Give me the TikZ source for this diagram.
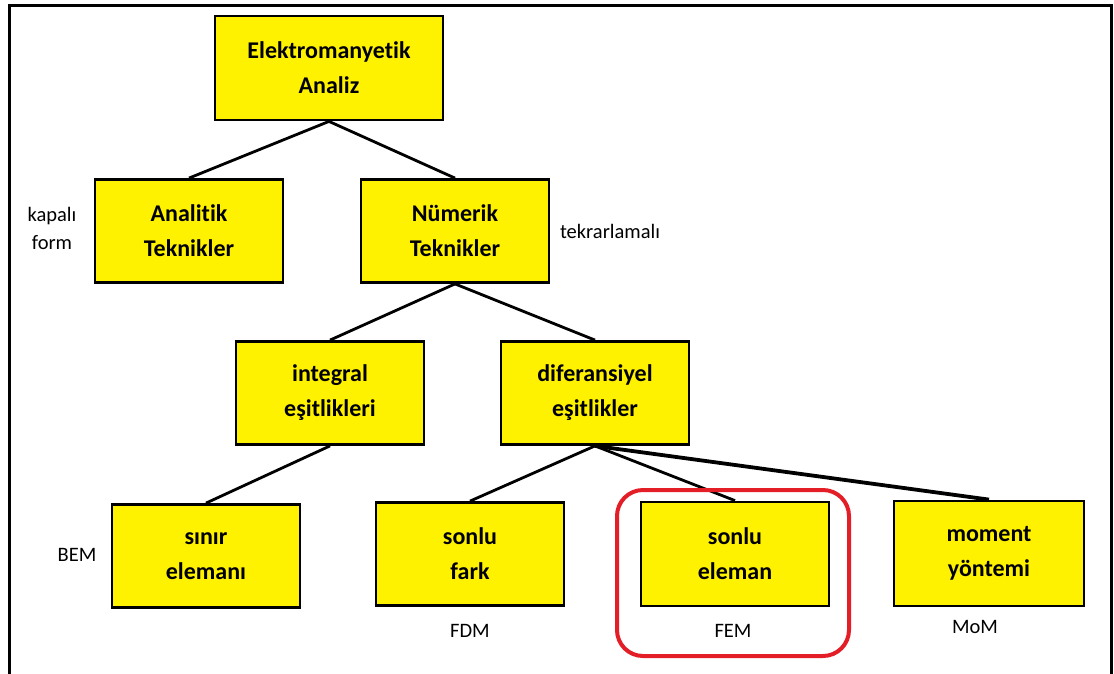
\documentclass[tikz,border=0pt]{standalone}
\usepackage{fontspec}
\setmainfont{Carlito}[Ligatures=NoCommon]
\definecolor{boxyellow}{RGB}{255,242,0}
\definecolor{ringred}{RGB}{228,30,38}
\begin{document}
\begin{tikzpicture}[x=1pt,y=-1pt,
  box/.style={draw=black,line width=2.8pt,fill=boxyellow,inner sep=0pt,
    minimum width=188pt,minimum height=103pt,align=center,
    font=\bfseries\fontsize{24}{35}\selectfont},
  lbl/.style={inner sep=0pt,align=center,font=\fontsize{20.5}{28}\selectfont},
  conn/.style={line width=2.8pt,black},
  thickconn/.style={line width=3.8pt,black}]
\useasboundingbox (0,0) rectangle (1114,673);
\fill[white] (0,0) rectangle (1114,673);
% frame
\draw[line width=3pt] (9.5,675) -- (9.5,5.5) -- (1111.5,5.5) -- (1111.5,675);
% boxes
\node[box,minimum width=228pt,minimum height=104pt] (em) at (329,68) {Elektromanyetik\\Analiz};
\node[box] (an) at (189,231) {Analitik\\Teknikler};
\node[box] (nu) at (455,231) {Nümerik\\Teknikler};
\node[box] (ie) at (330,393) {integral\\eşitlikleri};
\node[box] (de) at (595,393) {diferansiyel\\eşitlikler};
\node[box] (sn) at (206,556) {sınır\\elemanı};
\node[box] (sf) at (470,554) {sonlu\\fark};
\node[box,minimum height=104pt] (se) at (735,554) {sonlu\\eleman};
\node[box,minimum width=190pt,minimum height=105pt] (mo) at (989,553.5) {moment\\yöntemi};
% connectors
\draw[conn] (em.south) -- (an.north);
\draw[conn] (em.south) -- (nu.north);
\draw[conn] (nu.south) -- (ie.north);
\draw[conn] (nu.south) -- (de.north);
\draw[conn] (ie.south) -- (sn.north);
\draw[conn] (de.south) -- (sf.north);
\draw[conn] (de.south) -- (se.north);
\draw[thickconn] (de.south) -- (mo.north);
% labels
\node[lbl] (kf) at (52,228) {kapalı\\form};
\node[lbl] (tk) at (610,231) {tekrarlamalı};
\node[lbl] (bem) at (77,555) {BEM};
\node[lbl] (fdm) at (470,631) {FDM};
\node[lbl] (fem) at (733,631) {FEM};
\node[lbl] (mom) at (975,627) {MoM};
% highlight
\draw[ringred,line width=4pt,rounded corners=26pt] (617,490) rectangle (849,656);
\end{tikzpicture}
\end{document}
